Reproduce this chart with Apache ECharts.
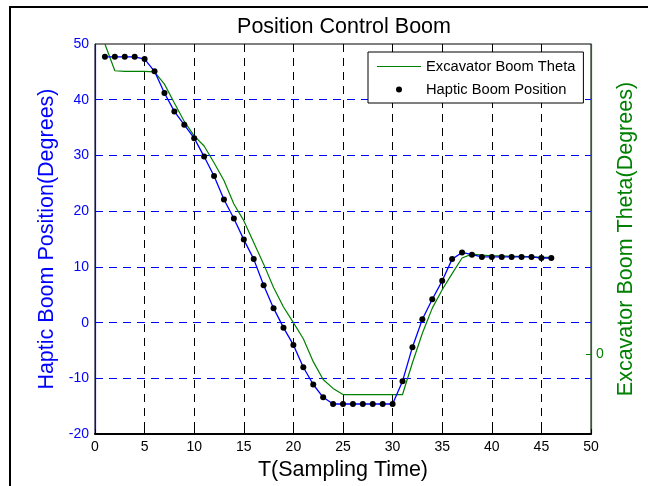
<!DOCTYPE html>
<html>
<head>
<meta charset="utf-8">
<script src="https://cdn.jsdelivr.net/npm/echarts@6/dist/echarts.min.js"></script>
<style>
html, body { margin: 0; padding: 0; background: #fff; }
#chart { width: 648px; height: 486px; }
</style>
</head>
<body>
<div id="chart"></div>
<script>
// sampling instants
var sampleT = [];
for (var i = 1; i <= 46; i++) sampleT.push(i);

// haptic boom position (degrees)
var hapticPos = [47.7, 47.7, 47.7, 47.7, 47.3, 45.1, 41.2, 37.9, 35.5, 33.1,
    29.8, 26.3, 22.1, 18.7, 14.9, 11.4, 6.7, 2.6, -0.9, -4.0,
    -8.0, -11.1, -13.4, -14.6, -14.6, -14.6, -14.6, -14.6, -14.6, -14.6,
    -10.5, -4.4, 0.6, 4.2, 7.5, 11.4, 12.6, 12.2, 11.8, 11.8,
    11.8, 11.8, 11.8, 11.8, 11.6, 11.6];

// excavator boom theta (degrees)
var boomTheta = [50, 45.2, 45.1, 45.1, 45.1, 45.0, 42.8, 39.4, 36.1, 33.5,
    31.7, 28.7, 25.5, 21.3, 18.3, 14.4, 10.5, 6.3, 2.8, 0,
    -2.9, -7.0, -10.2, -11.8, -12.9, -12.9, -12.9, -12.9, -12.9, -12.9,
    -12.9, -7.2, -1.9, 2.6, 5.9, 8.8, 11.6, 12.3, 12.1, 12.0,
    12.0, 11.9, 11.9, 11.8, 11.7, 11.7];

var rightTicks = [0];

function pairs(xs, ys) {
    return xs.map(function (x, k) { return [x, ys[k]]; });
}

var FONT = '"Liberation Sans", Arial, sans-serif';
var chart = echarts.init(document.getElementById('chart'));

var option = {
    backgroundColor: '#fff',
    animation: false,
    title: {
        text: 'Position Control Boom',
        left: 339,
        textAlign: 'center',
        top: 11,
        textStyle: { fontFamily: FONT, fontSize: 21.5, fontWeight: 'normal', color: '#000' }
    },
    graphic: [{
        type: 'rect',
        shape: { x: 10, y: 7, width: 700, height: 600 },
        style: { fill: null, stroke: '#000', lineWidth: 2 },
        silent: true
    }],
    legend: {
        orient: 'vertical',
        left: 368,
        top: 52,
        padding: [7, 8, 6, 9],
        itemGap: 8,
        itemWidth: 44,
        itemHeight: 6,
        backgroundColor: '#fff',
        borderColor: '#000',
        borderWidth: 1,
        selectedMode: false,
        textStyle: { fontFamily: FONT, fontSize: 14.7, color: '#000' },
        data: [
            { name: 'Excavator Boom Theta', icon: 'path://M0,0 L44,0 L44,1 L0,1 Z' },
            { name: 'Haptic Boom Position', icon: 'circle' }
        ]
    },
    grid: {
        left: 95, right: 57, top: 44, bottom: 49,
        show: true, borderColor: '#000', borderWidth: 1, backgroundColor: '#fff'
    },
    xAxis: {
        type: 'value',
        min: 0, max: 50, interval: 5,
        name: 'T(Sampling Time)',
        nameLocation: 'middle',
        nameGap: 24,
        nameTextStyle: { fontFamily: FONT, fontSize: 21.5, color: '#000' },
        axisLine: { onZero: false, lineStyle: { color: '#000', width: 2 } },
        axisTick: { inside: true, length: 5, lineStyle: { color: '#000' } },
        axisLabel: { fontFamily: FONT, fontSize: 14, color: '#000', margin: 6 },
        splitLine: {
            show: true, showMinLine: false, showMaxLine: false,
            lineStyle: { color: '#000', type: [8, 6], width: 1 }
        }
    },
    yAxis: [{
        type: 'value',
        min: -20, max: 50, interval: 10,
        name: 'Haptic Boom Position(Degrees)',
        nameLocation: 'middle',
        nameGap: 35,
        nameTextStyle: { fontFamily: FONT, fontSize: 21.5, color: '#0000ff' },
        axisLine: { show: true, onZero: false, lineStyle: { color: '#0000ff', width: 1.2 } },
        axisTick: { show: false },
        axisLabel: { fontFamily: FONT, fontSize: 14, color: '#0000ff', margin: 6 },
        splitLine: {
            show: true, showMinLine: false, showMaxLine: false,
            lineStyle: { color: '#0000ff', type: [8, 6], width: 1 }
        }
    }, {
        type: 'value',
        position: 'right',
        min: -1, max: 3.9,
        name: 'Excavator Boom Theta(Degrees)',
        nameLocation: 'middle',
        nameGap: 8,
        nameTextStyle: { fontFamily: FONT, fontSize: 21.5, color: '#008000' },
        axisLine: { show: true, onZero: false, lineStyle: { color: '#008000', width: 1.2 } },
        axisTick: { show: true, inside: true, length: 5, customValues: rightTicks, lineStyle: { color: '#008000' } },
        axisLabel: { fontFamily: FONT, fontSize: 14, color: '#008000', margin: 5, customValues: rightTicks },
        splitLine: { show: false }
    }],
    series: [{
        name: 'Excavator Boom Theta',
        type: 'line',
        yAxisIndex: 0,
        data: pairs(sampleT, boomTheta),
        showSymbol: false,
        symbol: 'none',
        itemStyle: { color: '#008000' },
        lineStyle: { color: '#008000', width: 1.2 },
        z: 3
    }, {
        name: 'haptic line',
        type: 'line',
        yAxisIndex: 0,
        data: pairs(sampleT, hapticPos),
        showSymbol: false,
        symbol: 'none',
        lineStyle: { color: '#0000ff', width: 1.3 },
        z: 4
    }, {
        name: 'Haptic Boom Position',
        type: 'scatter',
        yAxisIndex: 0,
        data: pairs(sampleT, hapticPos),
        symbol: 'circle',
        symbolSize: 6,
        itemStyle: { color: '#000', opacity: 1 },
        z: 5
    }]
};
chart.setOption(option);
</script>
</body>
</html>
